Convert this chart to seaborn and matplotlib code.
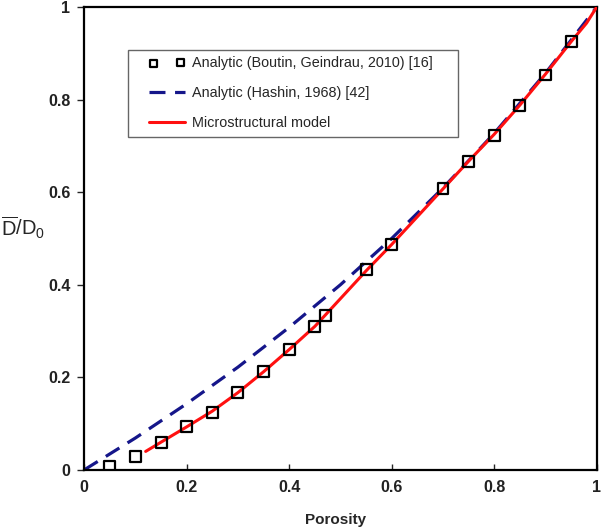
import matplotlib
matplotlib.use("Agg")
import matplotlib.pyplot as plt
from matplotlib.patches import Rectangle
import pandas as pd
import seaborn as sns

# Data
boutin_x = [0.05, 0.10, 0.15, 0.20, 0.25, 0.30, 0.35, 0.40, 0.45, 0.47,
            0.55, 0.60, 0.70, 0.75, 0.80, 0.85, 0.90, 0.95]
boutin_y = [0.007, 0.030, 0.060, 0.093, 0.125, 0.167, 0.212, 0.260, 0.310, 0.333,
            0.432, 0.487, 0.607, 0.667, 0.723, 0.788, 0.853, 0.925]

hashin_x = [0.0, 0.1, 0.2, 0.3, 0.4, 0.5, 0.6, 0.7, 0.8, 0.9, 1.0]
hashin_y = [0.0, 0.069, 0.143, 0.222, 0.308, 0.400, 0.500, 0.609, 0.727, 0.857, 1.0]

micro_x = [0.12, 0.15, 0.20, 0.25, 0.30, 0.35, 0.40, 0.45, 0.50, 0.55,
           0.60, 0.65, 0.70, 0.75, 0.80, 0.85, 0.90, 0.95, 0.98, 1.00]
micro_y = [0.040, 0.060, 0.093, 0.127, 0.167, 0.212, 0.260, 0.310, 0.370, 0.430,
           0.487, 0.547, 0.607, 0.667, 0.725, 0.788, 0.855, 0.925, 0.965, 1.000]

labels = ["Analytic (Boutin, Geindrau, 2010) [16]",
          "Analytic (Hashin, 1968) [42]",
          "Microstructural model"]
ticks = [0, 0.2, 0.4, 0.6, 0.8, 1.0]
tick_labels = ["0", "0.2", "0.4", "0.6", "0.8", "1"]

df_b = pd.DataFrame({"x": boutin_x, "y": boutin_y})
df_h = pd.DataFrame({"x": hashin_x, "y": hashin_y})
df_m = pd.DataFrame({"x": micro_x, "y": micro_y})

sns.set_style("white")
plt.rcParams["font.family"] = ["Liberation Sans", "DejaVu Sans"]
plt.rcParams["mathtext.fontset"] = "custom"
plt.rcParams["mathtext.rm"] = "Liberation Sans"
plt.rcParams["mathtext.it"] = "Liberation Sans:italic"

fig = plt.figure(figsize=(6.01, 5.31), dpi=100)
ax = fig.add_axes([0.14, 0.115, 0.853, 0.872])

sns.lineplot(data=df_h, x="x", y="y", ax=ax, color="#15168a", linewidth=2.3, zorder=2)
ax.lines[-1].set_dashes((5, 3.0))
sns.lineplot(data=df_m, x="x", y="y", ax=ax, color="#ff1010", linewidth=2.2, zorder=3)
sns.scatterplot(data=df_b, x="x", y="y", ax=ax, marker="s", s=62,
                facecolor="none", edgecolor="black", linewidth=1.6, zorder=4)

h_line = ax.lines[0]
m_line = ax.lines[1]
sq = ax.collections[-1]

# legend box (drawn separately: wider side padding than top/bottom)
ax.add_patch(Rectangle((0.0858, 0.719), 0.643, 0.188, transform=ax.transAxes,
                       facecolor="white", edgecolor="#666666", linewidth=1.0,
                       zorder=5))
leg = ax.legend([sq, h_line, m_line], labels, loc="upper left",
                bbox_to_anchor=(0.127, 0.893), scatterpoints=2, markerscale=0.65,
                fontsize=10.4, frameon=False, borderpad=0, labelspacing=1.1,
                handlelength=2.45, handletextpad=0.5, borderaxespad=0)
leg.set_zorder(6)

ax.set_xlim(0, 1)
ax.set_ylim(0, 1)
ax.set_xticks(ticks)
ax.set_xticklabels(tick_labels, fontweight="bold")
ax.set_yticks(ticks)
ax.set_yticklabels(tick_labels, fontweight="bold")
ax.tick_params(axis="x", direction="in", length=4, width=1, labelsize=11.5,
               pad=7, bottom=True, labelcolor="#222222")
ax.tick_params(axis="y", direction="out", length=5, width=1, labelsize=11.5,
               pad=5, left=True, labelcolor="#222222")

for s in ax.spines.values():
    s.set_color("black")
    s.set_linewidth(1.6)

ax.set_xlabel("Porosity", fontsize=11, fontweight="bold")
ax.xaxis.set_label_coords(0.49, -0.092)
ax.set_ylabel(r"$\overline{\mathrm{D}}/\mathrm{D}_0$", fontsize=14.5, rotation=0)
ax.yaxis.set_label_coords(-0.12, 0.495)

fig.savefig("out.png", dpi=100)
